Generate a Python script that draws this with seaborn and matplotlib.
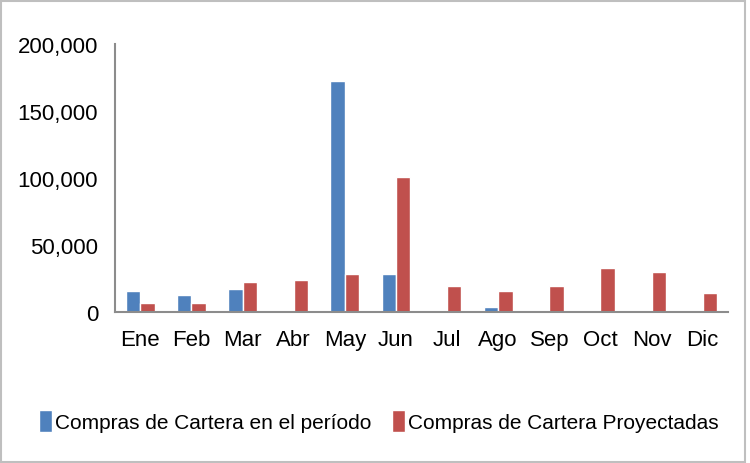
import pandas as pd
import numpy as np
import matplotlib.pyplot as plt
import seaborn as sns
from matplotlib.patches import Rectangle

meses = ["Ene", "Feb", "Mar", "Abr", "May", "Jun", "Jul", "Ago", "Sep", "Oct", "Nov", "Dic"]
compras_periodo = [15700, 12700, 17000, 500, 173000, 28400, 0, 3700, 0, 0, 0, 0]
compras_proyectadas = [6700, 6700, 22400, 24000, 28400, 100700, 19400, 15700, 19400, 32800, 29800, 14200]
series = ["Compras de Cartera en el período", "Compras de Cartera Proyectadas"]

df = pd.DataFrame({
    "mes": meses * 2,
    "valor": compras_periodo + compras_proyectadas,
    "serie": [series[0]] * 12 + [series[1]] * 12,
})

sns.set_style("white")
plt.rcParams['font.family'] = ['Liberation Sans', 'DejaVu Sans']

fig = plt.figure(figsize=(7.5, 4.64), dpi=100)
ax = fig.add_axes([0.153, 0.325, 0.818, 0.577])
sns.barplot(data=df, x="mes", y="valor", hue="serie", order=meses,
            palette=["#4F81BD", "#C0504D"], saturation=1, width=0.56, ax=ax)

ax.set_ylim(0, 200000)
ax.set_xlim(-0.5, 11.5)
ax.set_yticks([0, 50000, 100000, 150000, 200000])
ax.set_yticklabels(["0", "50,000", "100,000", "150,000", "200,000"])
ax.tick_params(axis="both", labelsize=16, length=0, colors="black")
ax.tick_params(axis="x", pad=12)
ax.tick_params(axis="y", pad=12)
ax.set_xlabel("")
ax.set_ylabel("")
for s in ["top", "right"]:
    ax.spines[s].set_visible(False)
for s in ["left", "bottom"]:
    ax.spines[s].set_color("#8c8c8c")
    ax.spines[s].set_linewidth(1.5)

h, l = ax.get_legend_handles_labels()
ax.legend_.remove()
leg = fig.legend(h, l, loc="center", bbox_to_anchor=(0.505, 0.09), ncol=2, frameon=False,
                 fontsize=15, handlelength=0.6, handleheight=1.2, handletextpad=0.15,
                 columnspacing=1.0)
for t in leg.get_texts():
    t.set_color("black")

fig.patches.append(Rectangle((0.001, 0.002), 0.992, 0.994, transform=fig.transFigure,
                             fill=False, edgecolor="#bfbfbf", linewidth=1.5))

fig.savefig("out.png", dpi=100)
